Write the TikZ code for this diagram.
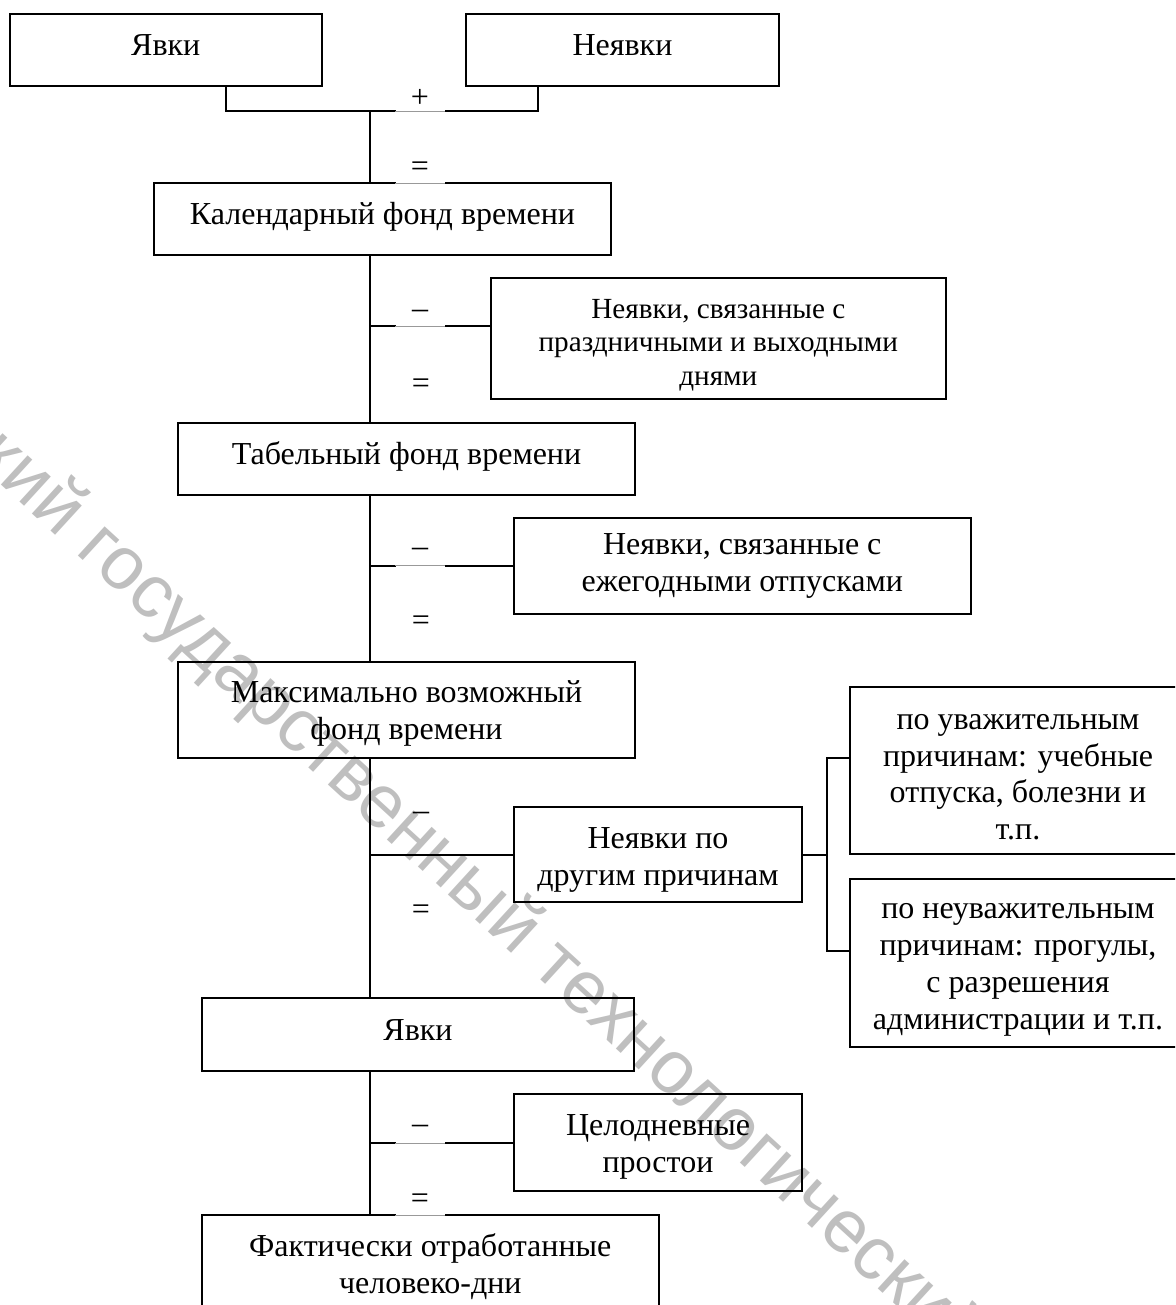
\documentclass[tikz,border=0pt]{standalone}
\usepackage{fontspec}
\setmainfont{Liberation Serif}
\newfontfamily\wmfont{Liberation Sans}
\newcommand\vstr[1]{\rule{0pt}{#1}}
\begin{document}
\begin{tikzpicture}[x=0.5pt,y=-0.5pt,
  box/.style={draw, line width=1pt, inner sep=0pt, align=center,
    font=\fontsize{16pt}{18.4pt}\selectfont},
  small/.style={font=\fontsize{14.6pt}{16.8pt}\selectfont},
  one/.style={text height=11.3pt, text depth=5.7pt},
  sign/.style={inner sep=0pt, font=\fontsize{16pt}{18.4pt}\selectfont, minimum width=24.5pt},
  mask/.style={sign, fill=white},
  conn/.style={line width=1pt},
  gapline/.style={line width=0.4pt, black!40},
  wm/.style={font=\wmfont\fontsize{37.5pt}{40pt}\selectfont, text=black!25,
    inner sep=0pt, rotate=-42.5, anchor=base west}]
\useasboundingbox (0,0) rectangle (1175,1305);
\clip (0,0) rectangle (1175,1305);

% watermark
\node[wm] (wm) at (-55,434) {ский государственный технологический};

% boxes
\node[box, one, minimum width=156.2pt, minimum height=36pt] (yavki1) at (165.8,50) {Явки};
\node[box, one, minimum width=156.5pt, minimum height=36pt] (neyavki) at (622.5,50) {Неявки};
\node[box, one, minimum width=228.5pt, minimum height=36pt] (kalend) at (382.5,219) {Календарный фонд времени};
\node[box, small, minimum width=227.7pt, minimum height=60.5pt] (prazd) at (718.3,338.5)
  {\vstr{16.1pt}Неявки, связанные с\\праздничными и выходными\\днями};
\node[box, one, minimum width=228.5pt, minimum height=36pt] (tabel) at (406.5,459) {Табельный фонд времени};
\node[box, minimum width=228.25pt, minimum height=48pt] (otpusk) at (742.25,566)
  {Неявки, связанные с\\ежегодными отпусками};
\node[box, minimum width=228.5pt, minimum height=48pt] (maks) at (406.5,710)
  {\vstr{14.4pt}Максимально возможный\\фонд времени};
\node[box, minimum width=144pt, minimum height=47.5pt] (drug) at (658,854.5)
  {\vstr{15.6pt}Неявки по\\другим причинам};
\node[box, minimum width=168pt, minimum height=83.5pt] (uvazh) at (1018,770.5)
  {\vstr{14.3pt}по уважительным\\причинам: учебные\\отпуска, болезни и\\т.п.};
\node[box, minimum width=168pt, minimum height=84pt] (neuvazh) at (1018,963)
  {\vstr{14.3pt}по неуважительным\\причинам: прогулы,\\с разрешения\\администрации и т.п.};
\node[box, one, minimum width=216pt, minimum height=36.5pt] (yavki2) at (418,1034.5) {Явки};
\node[box, minimum width=144pt, minimum height=48.5pt] (celod) at (658,1142.5)
  {\vstr{14.6pt}Целодневные\\простои};
\node[box, minimum width=228.25pt, minimum height=49pt] (fakt) at (430.25,1264)
  {\vstr{14pt}Фактически отработанные\\человеко-дни};

% connectors
\coordinate (jn) at (370,111);
\coordinate (br) at ([xshift=11.75pt]drug.east);
\draw[conn] ([xshift=30.1pt]yavki1.south) |- (jn) -| ([xshift=-42.25pt]neyavki.south);
\draw[conn] (jn) -- (jn |- kalend.north);
\draw[conn] (kalend.south -| jn) -- (tabel.north -| jn);
\draw[conn] (tabel.south -| jn) -- (maks.north -| jn);
\draw[conn] (maks.south -| jn) -- (yavki2.north -| jn);
\draw[conn] (yavki2.south -| jn) -- (fakt.north -| jn);
\coordinate (c4) at ([yshift=6.25pt]prazd.west);
\draw[conn] (c4 -| jn) -- (c4);
\draw[conn] (otpusk.west -| jn) -- (otpusk.west);
\draw[conn] (drug.west -| jn) -- (drug.west);
\draw[conn] (celod.west -| jn) -- (celod.west);
\coordinate (c9) at ([yshift=6.25pt]uvazh.west);
\coordinate (c10) at ([yshift=6pt]neuvazh.west);
\draw[conn] (drug.east) -- (br);
\draw[conn] (c9) -| (br) |- (c10);

% signs
\node[mask, minimum height=14.5pt] (s1) at (420,98) {+};
\node[mask, minimum height=15.5pt] (s2) at (420,169) {=};
\node[mask, minimum height=13.5pt] (s3) at (420,314) {–};
\node[sign] (s4) at (421,386) {=};
\node[mask, minimum height=14.5pt] (s5) at (420,552) {–};
\node[sign] (s6) at (421,623) {=};
\node[sign] (s7) at (421,816) {–};
\node[sign] (s8) at (421,912) {=};
\node[mask, minimum height=15.5pt] (s9) at (420,1129) {–};
\node[mask, minimum height=15.5pt] (s10) at (420,1201) {=};
\foreach \m in {s1,s2,s3,s5,s9,s10}
  \draw[gapline] ([yshift=0.75pt]\m.south west) -- ([yshift=0.75pt]\m.south east);
\end{tikzpicture}
\end{document}
